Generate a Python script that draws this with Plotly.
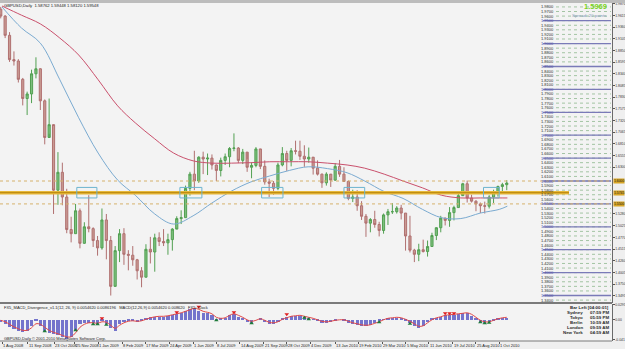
import pandas as pd
import plotly.graph_objects as go

# ---------------- data ----------------
week_start = '2008-07-30'
n_weeks = 116
first_open = 1.9750
wk_high = [1.9800, 1.9620, 1.9250, 1.8830, 1.8660, 1.8250, 1.7950, 1.8430, 1.8700, 1.8460,
           1.7780, 1.7800, 1.7200, 1.6630, 1.6400, 1.5830, 1.5220, 1.5500, 1.5400, 1.5100,
           1.5690, 1.4990, 1.4800,
           1.5400, 1.5280, 1.4800, 1.4580, 1.4950, 1.4970, 1.4490, 1.4580, 1.4300, 1.4120,
           1.4620, 1.4780, 1.4850, 1.4880, 1.4950, 1.4850, 1.4970, 1.5230, 1.5360, 1.5900,
           1.6200, 1.6660, 1.6540, 1.6640, 1.6600, 1.6580, 1.6360, 1.6510, 1.6600, 1.6740,
           1.7040, 1.6740, 1.6700, 1.6480, 1.6400, 1.6740, 1.6690, 1.6450, 1.6050, 1.6000,
           1.6400, 1.6740, 1.6660, 1.6720, 1.6880, 1.6880, 1.6780, 1.6730, 1.6500, 1.6450,
           1.6160, 1.6190,
           1.6130, 1.6390, 1.6460, 1.6300, 1.6010, 1.5810, 1.5800, 1.5560, 1.5280, 1.5190,
           1.5350, 1.5110, 1.5290, 1.5390, 1.5520, 1.5450, 1.5480, 1.5300, 1.5240, 1.4520,
           1.4630, 1.4720, 1.4700, 1.4870, 1.4990, 1.5240, 1.5200, 1.5430, 1.5460, 1.5720,
           1.5960, 1.6010, 1.5700, 1.5580, 1.5530, 1.5550, 1.5690, 1.5810, 1.5900, 1.5960,
           1.6020]
wk_low = [1.9550, 1.9120, 1.8600, 1.8520, 1.8150, 1.7650, 1.7440, 1.7700, 1.8240, 1.7550,
          1.6800, 1.7030, 1.5280, 1.5480, 1.5470, 1.4860, 1.4660, 1.4850, 1.4530, 1.4630,
          1.4880, 1.4560, 1.4370,
          1.4500, 1.4290, 1.3500, 1.3720, 1.4230, 1.4170, 1.4050, 1.4150, 1.3850, 1.3680,
          1.3900, 1.4200, 1.4020, 1.4580, 1.4580, 1.4390, 1.4480, 1.4980, 1.5060, 1.5200,
          1.5680, 1.5800, 1.5960, 1.6150, 1.6130, 1.6250, 1.6000, 1.6100, 1.6350, 1.6300,
          1.6650, 1.6390, 1.6370, 1.6200, 1.6060, 1.6300, 1.6260, 1.5920, 1.5650, 1.5700,
          1.5800, 1.6320, 1.6220, 1.6320, 1.6580, 1.6460, 1.6310, 1.6400, 1.6140, 1.6120,
          1.5850, 1.5900,
          1.5870, 1.6000, 1.6090, 1.5980, 1.5580, 1.5540, 1.5350, 1.5150, 1.4780, 1.4880,
          1.4980, 1.4790, 1.4850, 1.5040, 1.5280, 1.5290, 1.5160, 1.4480, 1.4440, 1.4230,
          1.4250, 1.4440, 1.4350, 1.4560, 1.4710, 1.4880, 1.5030, 1.5000, 1.5140, 1.5420,
          1.5710, 1.5530, 1.5530, 1.5340, 1.5300, 1.5290, 1.5400, 1.5520, 1.5660, 1.5750,
          1.5800]
wk_close = [1.9600, 1.9180, 1.8650, 1.8620, 1.8220, 1.7800, 1.7900, 1.8340, 1.8450, 1.7750,
            1.6950, 1.7230, 1.5800, 1.6190, 1.5650, 1.4940, 1.4850, 1.5350, 1.4640, 1.5000,
            1.4960, 1.4700, 1.4540,
            1.5150, 1.4700, 1.3700, 1.4480, 1.4850, 1.4400, 1.4380, 1.4280, 1.4040, 1.3900,
            1.4510, 1.4450, 1.4760, 1.4680, 1.4650, 1.4720, 1.4950, 1.5180, 1.5200, 1.5840,
            1.6150, 1.6000, 1.6520, 1.6480, 1.6500, 1.6350, 1.6230, 1.6450, 1.6530, 1.6710,
            1.6720, 1.6450, 1.6630, 1.6300, 1.6340, 1.6700, 1.6320, 1.5980, 1.5950, 1.5840,
            1.6350, 1.6600, 1.6450, 1.6660, 1.6650, 1.6540, 1.6480, 1.6520, 1.6280, 1.6150,
            1.5960, 1.6150,
            1.6020, 1.6320, 1.6150, 1.5990, 1.5620, 1.5650, 1.5460, 1.5230, 1.5080, 1.5160,
            1.5050, 1.4920, 1.5260, 1.5330, 1.5330, 1.5410, 1.5300, 1.4800, 1.4490, 1.4400,
            1.4500, 1.4460, 1.4570, 1.4810, 1.4980, 1.5190, 1.5140, 1.5310, 1.5420, 1.5680,
            1.5940, 1.5630, 1.5560, 1.5500, 1.5460, 1.5450, 1.5650, 1.5760, 1.5880, 1.5920,
            1.5955]

ma_dates = ['2008-08-01', '2008-09-01', '2008-10-01', '2008-11-01', '2008-12-01',
            '2009-01-01', '2009-02-01', '2009-03-01', '2009-04-01', '2009-05-01', '2009-06-01',
            '2009-07-01', '2009-08-01', '2009-09-01', '2009-10-01', '2009-11-01', '2009-12-01',
            '2010-01-01', '2010-02-01', '2010-03-01', '2010-04-01', '2010-05-01', '2010-06-01',
            '2010-07-01', '2010-08-01', '2010-09-01', '2010-10-01', '2010-10-14']
ma_slow = [1.982, 1.962, 1.943, 1.912, 1.875, 1.821, 1.764, 1.727, 1.692, 1.661, 1.644,
           1.639, 1.639, 1.640, 1.642, 1.642, 1.642, 1.639, 1.635, 1.628, 1.615, 1.600,
           1.585, 1.569, 1.563, 1.563, 1.563, 1.563]
ma_fast = [1.980, 1.934, 1.901, 1.821, 1.738, 1.661, 1.602, 1.569, 1.528, 1.506, 1.524,
           1.552, 1.578, 1.598, 1.611, 1.623, 1.631, 1.627, 1.618, 1.600, 1.577, 1.562,
           1.538, 1.520, 1.518, 1.530, 1.538, 1.545]

macd_hist = [-0.004, -0.008, -0.014, -0.018, -0.022, -0.024, -0.022, -0.012, -0.003, -0.012,
             -0.022, -0.026, -0.028, -0.030, -0.034, -0.038, -0.034, -0.020, -0.008, -0.006,
             -0.006, -0.007, -0.008, -0.003, -0.008, -0.016, -0.022, -0.008, -0.004, -0.003,
             -0.003, -0.004, -0.003, 0.002, 0.005, 0.006, 0.006, 0.006, 0.008, 0.010,
             0.012, 0.014, 0.017, 0.021, 0.024, 0.018, 0.014, 0.014, 0.010, 0.001,
             0.002, 0.004, 0.010, 0.012, 0.006, 0.002, -0.004, -0.006, 0.000, 0.002,
             -0.004, -0.008, -0.008, -0.004, 0.003, 0.005, 0.007, 0.008, 0.008, 0.005,
             0.003, 0.001, -0.003, -0.006, -0.006, -0.004, -0.001, 0.000, -0.002, -0.006,
             -0.008, -0.010, -0.012, -0.012, -0.010, -0.006, -0.003, 0.001, 0.003, 0.004,
             0.004, 0.002, -0.002, -0.006, -0.012, -0.016, -0.012, -0.004, 0.002, 0.004,
             0.006, 0.009, 0.010, 0.010, 0.011, 0.013, 0.014, 0.008, 0.002, -0.004,
             -0.006, -0.005, -0.001, 0.003, 0.004, 0.004]
macd_signal = [-0.002, -0.005, -0.010, -0.015, -0.019, -0.022, -0.022, -0.017, -0.009, -0.010,
               -0.016, -0.022, -0.026, -0.029, -0.032, -0.035, -0.035, -0.027, -0.016, -0.010,
               -0.007, -0.007, -0.008, -0.005, -0.006, -0.012, -0.018, -0.012, -0.007, -0.004,
               -0.003, -0.004, -0.003, 0.000, 0.003, 0.005, 0.006, 0.006, 0.007, 0.009,
               0.011, 0.013, 0.016, 0.019, 0.022, 0.020, 0.016, 0.014, 0.011, 0.004,
               0.002, 0.003, 0.008, 0.011, 0.008, 0.004, -0.001, -0.004, -0.002, 0.001,
               -0.002, -0.006, -0.007, -0.005, 0.000, 0.003, 0.006, 0.007, 0.008, 0.006,
               0.004, 0.002, -0.001, -0.004, -0.005, -0.004, -0.002, -0.001, -0.001, -0.004,
               -0.007, -0.009, -0.011, -0.012, -0.011, -0.008, -0.005, -0.001, 0.002, 0.003,
               0.004, 0.003, 0.000, -0.004, -0.009, -0.014, -0.013, -0.007, -0.001, 0.003,
               0.005, 0.008, 0.009, 0.010, 0.011, 0.012, 0.013, 0.010, 0.004, -0.002,
               -0.005, -0.005, -0.002, 0.001, 0.003, 0.004]

div_up_weeks = [23, 40, 45, 53, 65, 101, 102, 103]
div_up_vals = [0.002, 0.014, 0.025, 0.014, 0.010, 0.012, 0.012, 0.012]
div_dn_weeks = [10, 17, 21, 22, 24, 49, 57, 69, 70, 86, 93, 109, 110, 111]
div_dn_vals = [-0.024, -0.022, -0.010, -0.010, -0.011, -0.002, -0.008, 0.003, 0.000,
               -0.006, -0.009, -0.006, -0.008, -0.007]

level_thick = 1.5745
thick_end = '2011-01-20'
levels_dotted = [1.60, 1.55]
box_start = ['2008-11-28', '2009-05-11', '2009-09-18', '2010-01-27', '2010-09-06']
box_end = ['2008-12-30', '2009-06-15', '2009-10-22', '2010-03-01', '2010-10-01']
box_low, box_high = 1.563, 1.586

date_ticks = ['2008-08-01', '2008-09-11', '2008-10-23', '2008-11-25', '2009-01-01',
              '2009-02-08', '2009-03-17', '2009-04-24', '2009-06-01', '2009-07-08',
              '2009-08-14', '2009-09-21', '2009-10-28', '2009-12-04', '2010-01-13',
              '2010-02-19', '2010-03-29', '2010-05-05', '2010-06-11', '2010-07-19',
              '2010-08-25', '2010-10-01']
date_labels = ['1 Aug 2008', '11 Sep 2008', '23 Oct 2008', '25 Nov 2008', '1 Jan 2009',
               '8 Feb 2009', '17 Mar 2009', '24 Apr 2009', '1 Jun 2009', '8 Jul 2009',
               '14 Aug 2009', '21 Sep 2009', '28 Oct 2009', '4 Dec 2009', '13 Jan 2010',
               '19 Feb 2010', '29 Mar 2010', '5 May 2010', '11 Jun 2010', '19 Jul 2010',
               '25 Aug 2010', '1 Oct 2010']

# right price-axis labels (the three under the golden level boxes are hidden by them)
price_ticks = [1.9870, 1.9615, 1.9360, 1.9105, 1.8850, 1.8595, 1.8340, 1.8085, 1.7830,
               1.7575, 1.7320, 1.7065, 1.6810, 1.6555, 1.6300,
               1.5280, 1.5025, 1.4770, 1.4515, 1.4260, 1.4005, 1.3750, 1.3495]
ladder_levels = [round(1.34 + 0.01 * i, 2) for i in range(65)]
gold_labels = [1.6000, 1.5745, 1.5500]

macd_ticks = [0.0295, 0.0, -0.0410]
macd_ticktext = ['0.0295', '0.00', '-0.041']

header_text = 'GBPUSD,Daily  1.58762 1.59448 1.58120 1.59548'
macd_text = ('FX5_MACD_Divergence_v1.1(12, 26, 9) 0.0054620 0.0086196   '
             'MACD(12,26,9) 0.0054620 0.008620   FX5: Clock')
copyright_text = 'GBPUSD,Daily \u00a9 2001-2010 MetaQuotes Software Corp.'
clock_names = ['Sydney', 'Tokyo', 'Berlin', 'London', 'New York']
clock_times = ['07:59 PM', '05:59 PM', '10:59 AM', '09:59 AM', '04:59 AM']

# ---------------- figure ----------------
W, H = 625, 349
FONT = 'Liberation Sans'
def px_x(p):
    return p / W
def px_y(p):
    return (H - p) / H

dates = pd.date_range(week_start, periods=n_weeks, freq='7D')
wk_open = [first_open] + wk_close[:-1]
x_range = ['2008-07-28 19:40', '2011-03-29 10:00']
XD = [0, px_x(612)]

fig = go.Figure()
fig.add_trace(go.Candlestick(
    x=dates, open=wk_open, high=wk_high, low=wk_low, close=wk_close,
    increasing=dict(line=dict(color='#52a052', width=1), fillcolor='#7dbf7d'),
    decreasing=dict(line=dict(color='#b07070', width=1), fillcolor='#c99a92'),
    whiskerwidth=0, xaxis='x', yaxis='y', showlegend=False, hoverinfo='skip'))
fig.add_trace(go.Scatter(x=ma_dates, y=ma_slow, mode='lines', xaxis='x', yaxis='y',
                         line=dict(color='#c9506c', width=1, shape='spline'), hoverinfo='skip'))
fig.add_trace(go.Scatter(x=ma_dates, y=ma_fast, mode='lines', xaxis='x', yaxis='y',
                         line=dict(color='#7aaad0', width=1, shape='spline'), hoverinfo='skip'))

fig.add_trace(go.Bar(x=dates, y=macd_hist, xaxis='x2', yaxis='y2',
                     marker=dict(color='#7474cc', line=dict(width=0)),
                     width=5.2 * 86400000, hoverinfo='skip'))
fig.add_trace(go.Scatter(x=dates, y=macd_signal, mode='lines', xaxis='x2', yaxis='y2',
                         line=dict(color='#e04848', width=1, shape='spline'), hoverinfo='skip'))
fig.add_trace(go.Scatter(x=[dates[i] for i in div_up_weeks], y=div_up_vals, mode='markers',
                         xaxis='x2', yaxis='y2',
                         marker=dict(symbol='triangle-down', size=4, color='#e02020'),
                         hoverinfo='skip'))
fig.add_trace(go.Scatter(x=[dates[i] for i in div_dn_weeks], y=div_dn_vals, mode='markers',
                         xaxis='x2', yaxis='y2',
                         marker=dict(symbol='triangle-up', size=4, color='#1f7a3a'),
                         hoverinfo='skip'))

shapes = []
shapes.append(dict(type='rect', xref='paper', yref='paper', x0=0, x1=1, y0=px_y(3), y1=1,
                   fillcolor='#bcbcbc', line=dict(width=0), layer='above'))
for yy in (302.5, 303.5, 341):
    shapes.append(dict(type='line', xref='paper', yref='paper', x0=0, x1=px_x(612),
                       y0=px_y(yy), y1=px_y(yy), line=dict(color='#7a7a7a', width=1)))
for lv in ladder_levels:
    major = abs(lv * 20 - round(lv * 20)) < 1e-6
    shapes.append(dict(type='line', xref='paper', yref='y', x0=px_x(556), x1=px_x(611),
                       y0=lv, y1=lv, line=dict(color='#a3c4a3', width=1, dash='dot')))
    if major:
        shapes.append(dict(type='line', xref='paper', yref='y', x0=px_x(543), x1=px_x(611),
                           y0=lv, y1=lv, line=dict(color='#7a7ab8', width=1.3)))
for lv in levels_dotted:
    shapes.append(dict(type='line', xref='paper', yref='y', x0=0, x1=px_x(612), y0=lv, y1=lv,
                       line=dict(color='#d6b26c', width=1, dash='dot')))
shapes.append(dict(type='line', xref='x', yref='y', x0=x_range[0], x1=thick_end,
                   y0=level_thick, y1=level_thick, line=dict(color='#e7b83a', width=3.5)))
shapes.append(dict(type='line', xref='x', yref='y', x0=x_range[0], x1=thick_end,
                   y0=level_thick, y1=level_thick, line=dict(color='#b8860b', width=1)))
for s, e in zip(box_start, box_end):
    shapes.append(dict(type='rect', xref='x', yref='y', x0=s, x1=e, y0=box_low, y1=box_high,
                       line=dict(color='#6cb4cf', width=1), fillcolor='rgba(0,0,0,0)'))

ann = []
def text(x, y, t, size=4, color='#222', anchor='left', bold=False, **kw):
    ann.append(dict(x=x, y=y, xref=kw.pop('xref', 'paper'), yref=kw.pop('yref', 'paper'),
                    text=('<b>%s</b>' % t) if bold else t, showarrow=False,
                    xanchor=anchor, yanchor='middle',
                    font=dict(size=size, color=color, family=FONT), borderpad=0, **kw))

text(px_x(3), px_y(5.5), header_text, size=4.2, color='#1a1a1a')
text(px_x(608), px_y(7), '1.5969', size=7.5, color='#79d21c', anchor='right', bold=True)
text(px_x(608), px_y(15), 'Spread: 20 points', size=4.4, color='#7b96b4', anchor='right')
for lv in ladder_levels:
    major = abs(lv * 20 - round(lv * 20)) < 1e-6
    text(px_x(540), lv, '%.4f' % lv, size=4, color='#4a4aa0' if major else '#2a2a2a',
         yref='y')
for lv in gold_labels:
    text(px_x(613), lv, '%.4f' % lv, size=3.4, color='#222', yref='y', bgcolor='#d7a524')
text(px_x(3), px_y(307.5), macd_text, size=4, color='#1a1a1a')
text(px_x(3), px_y(338.5), copyright_text, size=4, color='#1a1a1a')
text(px_x(610), px_y(307.5), 'Bar Left [04:00:01]', size=4.4, color='#2a2a2a',
     anchor='right', bold=True)
for i, (nm, tm) in enumerate(zip(clock_names, clock_times)):
    yy = px_y(312.7 + 5 * i)
    text(px_x(584), yy, nm, size=4.4, color='#2a2a2a', anchor='right', bold=True)
    text(px_x(610), yy, tm, size=4.4, color='#2a2a2a', anchor='right', bold=True)
for d, lab in zip(date_ticks, date_labels):
    text(d, px_y(345.5), lab, size=4, color='#1a1a1a', xref='x2')

axis_common = dict(showgrid=False, zeroline=False, fixedrange=True, automargin=False)
fig.update_layout(
    width=W, height=H, margin=dict(l=0, r=0, t=0, b=0),
    template='none', showlegend=False, bargap=0,
    paper_bgcolor='#efefef', plot_bgcolor='#f3f3f3',
    font=dict(family=FONT, size=4, color='#222'),
    xaxis=dict(domain=XD, range=x_range, type='date', anchor='y', showticklabels=False,
               rangeslider=dict(visible=False), showline=False, ticks='', **axis_common),
    yaxis=dict(domain=[px_y(302.5), px_y(3)], range=[1.33477, 1.98857], side='right',
               anchor='x', tickvals=price_ticks, ticktext=['%.4f' % v for v in price_ticks],
               ticks='outside', ticklen=1.5, tickcolor='#555',
               tickfont=dict(size=3.4, color='#333'),
               showline=True, linecolor='#6a6a6a', linewidth=1, **axis_common),
    xaxis2=dict(domain=XD, range=x_range, type='date', anchor='y2', showticklabels=False,
                tickvals=date_ticks, ticks='outside', ticklen=2, tickcolor='#555',
                showline=False, **axis_common),
    yaxis2=dict(domain=[px_y(341), px_y(303.5)], range=[-0.0434, 0.0316], side='right',
                anchor='x2', tickvals=macd_ticks, ticktext=macd_ticktext, ticks='outside',
                ticklen=1.5, tickcolor='#555', tickfont=dict(size=3.4, color='#333'),
                showline=True, linecolor='#6a6a6a', linewidth=1, **axis_common),
    shapes=shapes, annotations=ann,
)

fig.write_html('out.html')
